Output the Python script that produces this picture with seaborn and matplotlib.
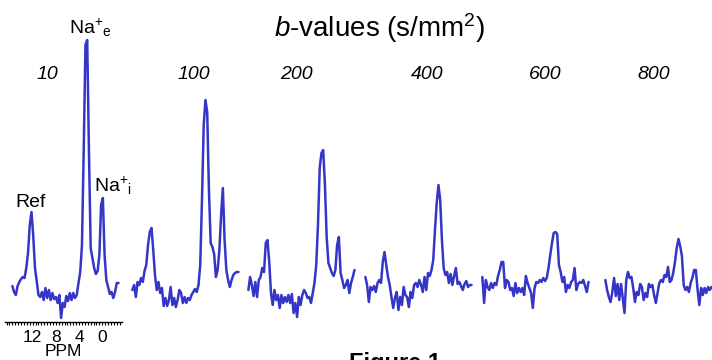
import numpy as np
import pandas as pd
import matplotlib
matplotlib.use("Agg")
import matplotlib.pyplot as plt
import seaborn as sns
from matplotlib.ticker import FixedLocator, MultipleLocator

# ---------------- data ----------------
ppm = [15.5, 15.2, 14.9, 14.6, 14.3, 14.0, 13.7, 13.4, 13.1, 12.8, 12.5, 12.2,
       11.9, 11.6, 11.3, 11.0, 10.7, 10.4, 10.1, 9.8, 9.5, 9.2, 8.9, 8.6, 8.3,
       8.0, 7.7, 7.4, 7.1, 6.8, 6.5, 6.2, 5.9, 5.6, 5.3, 5.0, 4.7, 4.4, 4.1,
       3.8, 3.5, 3.2, 2.9, 2.6, 2.3, 2.0, 1.7, 1.4, 1.1, 0.8, 0.5, 0.2, -0.1,
       -0.4, -0.7, -1.0, -1.3, -1.6, -1.9, -2.2, -2.5, -2.8]

b_values = ["10", "100", "200", "400", "600", "800"]

spec_b10 = [14, 8, 5, 14, 18, 21, 23, 22, 32, 47, 75, 88, 64, 32, 19, 5, 3, 8, 0, 12,
            2, 10, 0, 7, 1, 3, -3, 5, -18, -3, -7, 4, -1, 7, 0, 7, 2, 5, 17, 28,
            55, 150, 255, 260, 150, 52, 42, 32, 26, 29, 45, 95, 102, 45, 20, 13, 6, 8, 2, 8,
            17, 17]
spec_b100 = [10, 15, 3, 18, 15, 22, 18, 29, 35, 55, 68, 72, 50, 25, 10, 18, 7, 12, -6, 2,
             -6, 0, 13, -5, 2, -7, 0, 10, 7, -3, 3, -3, 2, 0, 5, 8, 11, 8, 15, 35,
             100, 175, 200, 188, 110, 57, 53, 46, 23, 30, 50, 85, 112, 60, 30, 20, 13, 20, 25, 27,
             28, 28]
spec_b200 = [10, 23, 15, 4, 18, 3, 20, 23, 32, 28, 57, 60, 38, 7, -5, 10, 0, 5, -8, 5,
             -3, 3, -2, 5, -3, 6, -13, -3, -17, 3, -5, 5, 10, 7, 2, 3, -3, 7, 17, 35,
             75, 132, 147, 150, 115, 63, 37, 32, 27, 24, 30, 55, 63, 27, 20, 12, 15, 20, 7, 17,
             23, 30]
spec_b400 = [23, 15, -2, 13, 10, 14, 8, 17, 20, 17, 38, 48, 35, 23, 15, 3, -8, 2, 8, -10,
             3, -5, 13, 5, 3, -7, 8, 2, 15, 17, 13, 20, 15, 8, 23, 10, 27, 24, 30, 40,
             70, 97, 115, 100, 60, 32, 25, 28, 17, 26, 15, 24, 32, 16, 18, 14, 10, 16, 19, 13,
             15, 15]
spec_b600 = [23, -3, 20, 13, 10, 17, 12, 17, 15, 24, 30, 38, 38, 12, 20, 18, 10, 12, 4, 17,
             7, 12, 8, 12, 5, 24, 17, 12, 7, -8, 12, 18, 17, 20, 18, 22, 19, 22, 32, 45,
             57, 67, 68, 66, 35, 28, 18, 23, 8, 15, 12, 18, 20, 32, 10, 16, 18, 17, 20, 14,
             8, 18]
spec_b800 = [20, 10, 3, -2, 8, 22, 4, 16, 0, 16, 2, -13, 20, 28, 22, 23, 12, -2, 8, 5,
             16, 13, 0, 7, 3, 16, 13, 15, 5, -3, 7, 17, 20, 18, 25, 23, 33, 18, 20, 27,
             38, 52, 61, 54, 44, 15, 10, 13, 8, 17, 22, 30, 30, 10, -5, 12, 5, 12, 7, 13,
             10, 13]

spectra = [spec_b10, spec_b100, spec_b200, spec_b400, spec_b600, spec_b800]

ppm_tick_values = [12, 8, 4, 0]
ppm_tick_labels = ["12", "8", "4", "0"]

df = pd.concat(
    [pd.DataFrame({"ppm": ppm, "intensity": s, "b": b}) for b, s in zip(b_values, spectra)],
    ignore_index=True,
)

# ---------------- style ----------------
sns.set_style("white")
plt.rcParams["font.family"] = ["Liberation Sans", "DejaVu Sans"]
plt.rcParams["text.color"] = "black"
plt.rcParams["axes.labelcolor"] = "black"
plt.rcParams["xtick.color"] = "black"
plt.rcParams["mathtext.fontset"] = "custom"
plt.rcParams["mathtext.rm"] = "Liberation Sans"
plt.rcParams["mathtext.it"] = "Liberation Sans:italic"
plt.rcParams["mathtext.bf"] = "Liberation Sans:bold"

W, H = 712, 360
fig = plt.figure(figsize=(W / 100, H / 100), dpi=100)
fig.patch.set_facecolor("white")

line_color = "#3535c8"
panel_left_px = [5.4, 125.4, 241.4, 358.4, 475.4, 598.4]
panel_w_px = 116.6
ax_bottom_px, ax_top_px = 322, 30
label_x_px = [47.5, 193.5, 296, 427, 545, 654]

for i, b in enumerate(b_values):
    ax = fig.add_axes([panel_left_px[i] / W, (H - ax_bottom_px) / H,
                       panel_w_px / W, (ax_bottom_px - ax_top_px) / H])
    ax.patch.set_alpha(0)
    sns.lineplot(data=df[df["b"] == b], x="ppm", y="intensity", ax=ax,
                 color=line_color, linewidth=1.8, sort=False, estimator=None)
    ax.set_xlim(16.7, -3.4)
    ax.set_ylim(-22, 270)
    ax.set_ylabel("")
    ax.set_yticks([])
    for s in ["top", "left", "right"]:
        ax.spines[s].set_visible(False)
    if i == 0:
        ax.spines["bottom"].set_visible(True)
        ax.spines["bottom"].set_color("black")
        ax.spines["bottom"].set_linewidth(1.0)
        ax.xaxis.set_major_locator(FixedLocator(ppm_tick_values))
        ax.set_xticklabels(ppm_tick_labels)
        ax.xaxis.set_minor_locator(MultipleLocator(0.5))
        ax.tick_params(axis="x", which="both", direction="out", length=2.5,
                       width=0.8, color="black", bottom=True, labelsize=12.5,
                       labelcolor="black", pad=3)
        ax.set_xlabel("PPM", fontsize=12.5, labelpad=-0.5, color="black")
    else:
        ax.spines["bottom"].set_visible(False)
        ax.set_xticks([])
        ax.set_xlabel("")
    fig.text(label_x_px[i] / W, 1 - 79 / H, b, ha="center", va="baseline",
             fontsize=14, style="italic", color="black")

fig.text(380 / W, 1 - 37 / H, r"$\mathit{b}$-values (s/mm$^2$)",
         ha="center", va="baseline", fontsize=20, color="black")
fig.text(69 / W, 1 - 34 / H, r"Na$^{+}{}_{\mathrm{e}}$", ha="left", va="baseline",
         fontsize=14, color="black")
fig.text(94 / W, 1 - 192 / H, r"Na$^{+}{}_{\mathrm{i}}$", ha="left", va="baseline",
         fontsize=14, color="black")
fig.text(15 / W, 1 - 207 / H, "Ref", ha="left", va="baseline", fontsize=14, color="black")
fig.text(395 / W, 1 - 352 / H, "Figure 1", ha="center", va="top",
         fontsize=17, fontweight="bold", color="black")

fig.savefig("out.png", dpi=100, facecolor="white")
